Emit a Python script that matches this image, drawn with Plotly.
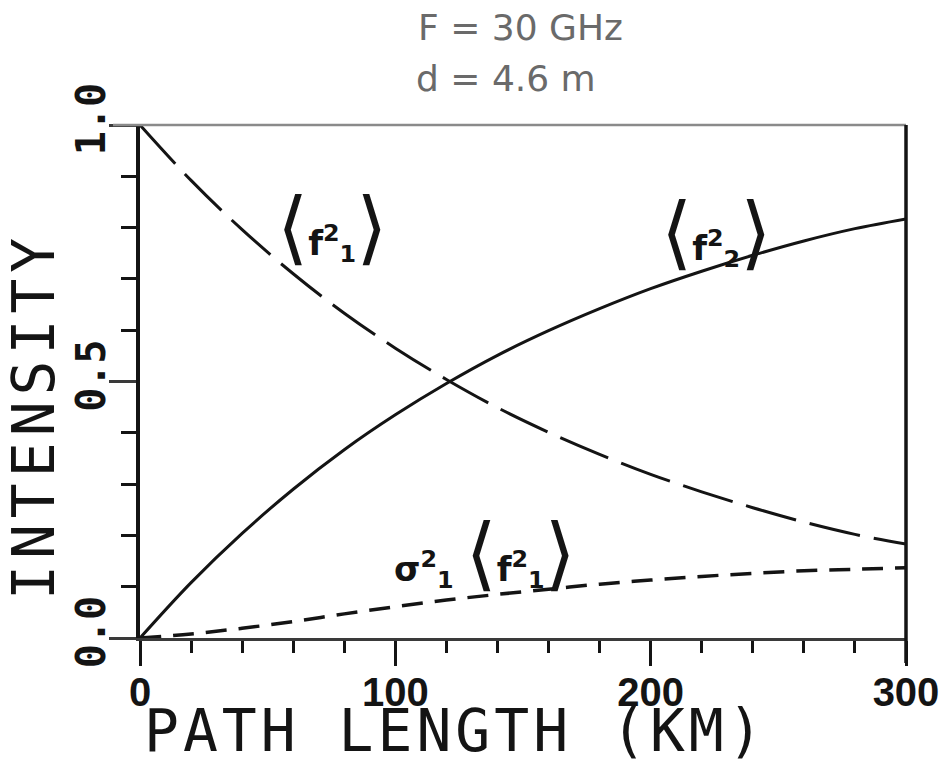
import json
import plotly.graph_objects as go

# Path length samples (km) and the three intensity curves
path_km = [0, 20, 40, 60, 80, 100, 120, 140, 160, 180, 200, 220, 240, 260, 280, 300]
coherent_f1 = [1.000, 0.892, 0.796, 0.710, 0.633, 0.565, 0.504, 0.449,
               0.401, 0.358, 0.319, 0.285, 0.254, 0.226, 0.202, 0.183]
incoherent_f2 = [0.000, 0.108, 0.204, 0.290, 0.367, 0.435, 0.496, 0.551,
                 0.599, 0.642, 0.681, 0.715, 0.746, 0.774, 0.798, 0.817]
scint_f1 = [0.000, 0.008, 0.019, 0.032, 0.047, 0.061, 0.074, 0.085,
            0.095, 0.105, 0.113, 0.120, 0.126, 0.131, 0.134, 0.137]

x_ticks = [0, 100, 200, 300]
y_ticks = [0.0, 0.5, 1.0]

title_lines = ["F = 30 GHz", "d = 4.6 m"]
x_title = "PATH LENGTH (KM)"
y_title = "INTENSITY"

BR = '<span style="font-size:80px;font-weight:normal">%s</span>'
label_f1 = BR % "⟨" + "f<sup>2</sup><sub>1</sub>" + BR % "⟩"
label_f2 = BR % "⟨" + "f<sup>2</sup><sub>2</sub>" + BR % "⟩"
label_sig = "σ<sup>2</sup><sub>1</sub> " + BR % "⟨" + "f<sup>2</sup><sub>1</sub>" + BR % "⟩"

INK = "#141414"

fig = go.Figure()
fig.add_trace(go.Scatter(x=path_km, y=coherent_f1, mode="lines",
                         line=dict(color=INK, width=3, dash="52px,14px", shape="spline"),
                         showlegend=False, hoverinfo="skip"))
fig.add_trace(go.Scatter(x=path_km, y=incoherent_f2, mode="lines",
                         line=dict(color=INK, width=3, shape="spline"),
                         showlegend=False, hoverinfo="skip"))
fig.add_trace(go.Scatter(x=path_km, y=scint_f1, mode="lines",
                         line=dict(color=INK, width=3.5, dash="21px,12px", shape="spline"),
                         showlegend=False, hoverinfo="skip"))

PW, PH = 766, 513

fig.update_layout(
    width=944, height=764,
    margin=dict(l=140, r=38, t=125, b=126, autoexpand=False),
    paper_bgcolor="white", plot_bgcolor="white",
    xaxis=dict(range=[0, 300], tickvals=x_ticks, ticks="outside", ticklen=25,
               tickwidth=3, tickcolor=INK, showgrid=False, zeroline=False,
               showline=True, linecolor="#3a3a3a", linewidth=3, automargin=False,
               tickfont=dict(family="Liberation Sans", size=40, color=INK, weight="bold"),
               minor=dict(dtick=20, ticks="outside", ticklen=12, tickwidth=3,
                          tickcolor=INK, showgrid=False),
               ticklabelstandoff=-8),
    yaxis=dict(range=[0, 1], tickvals=y_ticks, tickformat=".1f", ticks="outside",
               ticklen=27, tickwidth=3, tickcolor="#3a3a3a", showgrid=False,
               zeroline=False, showline=True, linecolor=INK, linewidth=4,
               tickangle=-90, automargin=False,
               tickfont=dict(family="DejaVu Sans Mono", size=40, color=INK, weight="bold"),
               minor=dict(dtick=0.1, ticks="outside", ticklen=15, tickwidth=3,
                          tickcolor=INK, showgrid=False),
               ticklabelstandoff=-12),
    shapes=[
        # top frame line (lighter) and right-hand axis
        dict(type="line", xref="paper", yref="paper", x0=0, x1=1, y0=1, y1=1,
             line=dict(color="#8a8a8a", width=2.5)),
        dict(type="line", xref="paper", yref="paper", x0=-27 / PW, x1=0, y0=1, y1=1,
             line=dict(color="#8a8a8a", width=2.5)),
        dict(type="line", xref="paper", yref="paper", x0=1, x1=1, y0=-25 / PH, y1=1,
             line=dict(color=INK, width=3.5)),
    ],
)

ann_font = dict(family="DejaVu Sans", size=34, color=INK, weight="bold")
fig.add_annotation(x=75, y=0.80, text=label_f1, showarrow=False, font=ann_font,
                   xanchor="center", yanchor="middle")
fig.add_annotation(x=225.5, y=0.79, text=label_f2, showarrow=False, font=ann_font,
                   xanchor="center", yanchor="middle")
fig.add_annotation(x=135, y=0.165, text=label_sig, showarrow=False, font=ann_font,
                   xanchor="center", yanchor="middle")

title_font = dict(family="DejaVu Sans", size=36, color="#6a6a6a")
fig.add_annotation(xref="paper", yref="paper", x=(520 - 140) / PW, y=(638 - 28) / PH,
                   text=title_lines[0], showarrow=False, font=title_font,
                   xanchor="center", yanchor="middle")
fig.add_annotation(xref="paper", yref="paper", x=(506 - 140) / PW, y=(638 - 78) / PH,
                   text=title_lines[1], showarrow=False, font=title_font,
                   xanchor="center", yanchor="middle")

axis_title_font = dict(family="DejaVu Sans Mono", size=58, color=INK)
fig.add_annotation(xref="paper", yref="paper", x=(34 - 140) / PW, y=(638 - 416) / PH,
                   text=y_title, textangle=-90, showarrow=False, font=axis_title_font,
                   xanchor="center", yanchor="middle")
fig.add_annotation(xref="paper", yref="paper", x=(455 - 140) / PW, y=(638 - 731) / PH,
                   text=x_title, showarrow=False, font=dict(axis_title_font, size=58),
                   xanchor="center", yanchor="middle")

# widen the plotter-style axis titles
spacing = {y_title: "6px", x_title: "4px"}
post = """
var gd = document.getElementById('{plot_id}');
var sp = %s;
function widen() {
  gd.querySelectorAll('text.annotation-text').forEach(function (t) {
    var s = t.textContent;
    if (sp[s]) { t.style.letterSpacing = sp[s]; }
  });
}
widen();
gd.on('plotly_afterplot', widen);
""" % json.dumps(spacing)

fig.write_html("out.html", post_script=post)
